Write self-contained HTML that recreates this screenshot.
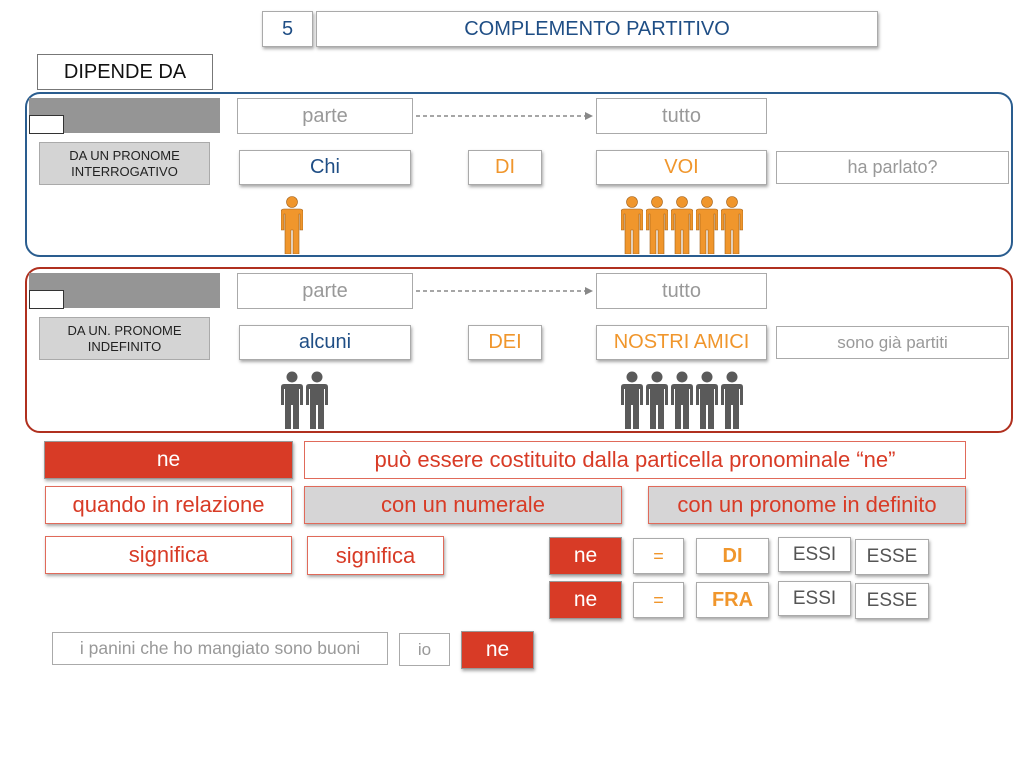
<!DOCTYPE html>
<html><head><meta charset="utf-8"><style>
body{margin:0;width:1024px;height:768px;background:#fff;position:relative;overflow:hidden;font-family:"Liberation Sans",sans-serif}
.b{position:absolute;box-sizing:border-box;display:flex;align-items:center;justify-content:center;text-align:center;background:#fff;border:1px solid #aaa;white-space:nowrap}
.sh{box-shadow:1px 2px 3px rgba(0,0,0,.35)}
.blue{color:#1f4e85}.or{color:#f0962c}.gr{color:#999}.dk{color:#555}
.red{color:#d83b26;border-color:#e06a5a}
.rf{background:#d83b26;color:#fff;border-color:#999}
svg.p{position:absolute}
</style></head><body>
<svg width="0" height="0" style="position:absolute"><defs>
<symbol id="per" viewBox="0 0 22 58"><circle cx="11" cy="6" r="5.5"/><path d="M3 13h16q3 0 3 3v18h-3v-16h-1v40h-6v-24h-2v24h-6v-40h-1v16h-3v-18q0-3 3-3z"/></symbol>
</defs></svg>

<div class="b sh blue" style="left:262px;top:11px;width:51px;height:36px;font-size:20px">5</div>
<div class="b sh blue" style="left:316px;top:11px;width:562px;height:36px;font-size:20px">COMPLEMENTO PARTITIVO</div>
<div class="b" style="left:37px;top:54px;width:176px;height:36px;font-size:20px;border-color:#777;color:#111">DIPENDE DA</div>

<div style="position:absolute;left:25px;top:92px;width:988px;height:165px;box-sizing:border-box;border:2px solid #2a5d8f;border-radius:15px"></div>
<div style="position:absolute;left:25px;top:267px;width:988px;height:166px;box-sizing:border-box;border:2px solid #b0301f;border-radius:15px"></div>

<!-- section 1 -->
<div style="position:absolute;left:29px;top:98px;width:191px;height:35px;background:#959595"></div>
<div style="position:absolute;left:29px;top:115px;width:35px;height:19px;background:#fff;border:1px solid #333;box-sizing:border-box"></div>
<div class="b" style="left:39px;top:142px;width:171px;height:43px;background:#d4d4d4;font-size:13px;line-height:16px;color:#222">DA UN PRONOME<br>INTERROGATIVO</div>
<div class="b gr" style="left:237px;top:98px;width:176px;height:36px;font-size:20px">parte</div>
<div class="b gr" style="left:596px;top:98px;width:171px;height:36px;font-size:20px">tutto</div>
<div class="b sh blue" style="left:239px;top:150px;width:172px;height:35px;font-size:20px">Chi</div>
<div class="b sh or" style="left:468px;top:150px;width:74px;height:35px;font-size:20px">DI</div>
<div class="b sh or" style="left:596px;top:150px;width:171px;height:35px;font-size:20px">VOI</div>
<div class="b gr" style="left:776px;top:151px;width:233px;height:33px;font-size:18px">ha parlato?</div>

<!-- section 2 -->
<div style="position:absolute;left:29px;top:273px;width:191px;height:35px;background:#959595"></div>
<div style="position:absolute;left:29px;top:290px;width:35px;height:19px;background:#fff;border:1px solid #333;box-sizing:border-box"></div>
<div class="b" style="left:39px;top:317px;width:171px;height:43px;background:#d4d4d4;font-size:13px;line-height:16px;color:#222">DA UN. PRONOME<br>INDEFINITO</div>
<div class="b gr" style="left:237px;top:273px;width:176px;height:36px;font-size:20px">parte</div>
<div class="b gr" style="left:596px;top:273px;width:171px;height:36px;font-size:20px">tutto</div>
<div class="b sh blue" style="left:239px;top:325px;width:172px;height:35px;font-size:20px">alcuni</div>
<div class="b sh or" style="left:468px;top:325px;width:74px;height:35px;font-size:20px">DEI</div>
<div class="b sh or" style="left:596px;top:325px;width:171px;height:35px;font-size:20px">NOSTRI AMICI</div>
<div class="b gr" style="left:776px;top:326px;width:233px;height:33px;font-size:17px">sono già partiti</div>

<svg style="position:absolute;left:0;top:0" width="1024" height="768">
<g stroke="#888" stroke-dasharray="4,3" stroke-width="1.5"><line x1="416" y1="116" x2="586" y2="116"/><line x1="416" y1="291" x2="586" y2="291"/></g>
<g fill="#888"><path d="M593 116l-8-4v8z"/><path d="M593 291l-8-4v8z"/></g>
<g fill="#f0962c" stroke="#a0601a" stroke-width=".6">
<use href="#per" x="281" y="196" width="22" height="58"/>
<use href="#per" x="621" y="196" width="22" height="58"/>
<use href="#per" x="646" y="196" width="22" height="58"/>
<use href="#per" x="671" y="196" width="22" height="58"/>
<use href="#per" x="696" y="196" width="22" height="58"/>
<use href="#per" x="721" y="196" width="22" height="58"/>
</g>
<g fill="#5a5a5a">
<use href="#per" x="281" y="371" width="22" height="58"/>
<use href="#per" x="306" y="371" width="22" height="58"/>
<use href="#per" x="621" y="371" width="22" height="58"/>
<use href="#per" x="646" y="371" width="22" height="58"/>
<use href="#per" x="671" y="371" width="22" height="58"/>
<use href="#per" x="696" y="371" width="22" height="58"/>
<use href="#per" x="721" y="371" width="22" height="58"/>
</g>
</svg>

<!-- bottom -->
<div class="b sh rf" style="left:44px;top:441px;width:249px;height:38px;font-size:21px">ne</div>
<div class="b red" style="left:304px;top:441px;width:662px;height:38px;font-size:22px">può essere costituito dalla particella pronominale “ne”</div>
<div class="b sh red" style="left:45px;top:486px;width:247px;height:38px;font-size:22px">quando in relazione</div>
<div class="b sh red" style="left:304px;top:486px;width:318px;height:38px;font-size:22px;background:#d6d5d6">con un numerale</div>
<div class="b sh red" style="left:648px;top:486px;width:318px;height:38px;font-size:22px;background:#d6d5d6">con un pronome in definito</div>
<div class="b sh red" style="left:45px;top:536px;width:247px;height:38px;font-size:22px">significa</div>
<div class="b sh red" style="left:307px;top:536px;width:137px;height:39px;font-size:22px">significa</div>

<div class="b sh rf" style="left:549px;top:537px;width:73px;height:38px;font-size:21px">ne</div>
<div class="b sh or" style="left:633px;top:538px;width:51px;height:36px;font-size:18px">=</div>
<div class="b sh or" style="left:696px;top:538px;width:73px;height:36px;font-size:20px;font-weight:bold">DI</div>
<div class="b sh dk" style="left:778px;top:537px;width:73px;height:35px;font-size:19px">ESSI</div>
<div class="b sh dk" style="left:855px;top:539px;width:74px;height:36px;font-size:19px">ESSE</div>
<div class="b sh rf" style="left:549px;top:581px;width:73px;height:38px;font-size:21px">ne</div>
<div class="b sh or" style="left:633px;top:582px;width:51px;height:36px;font-size:18px">=</div>
<div class="b sh or" style="left:696px;top:582px;width:73px;height:36px;font-size:20px;font-weight:bold">FRA</div>
<div class="b sh dk" style="left:778px;top:581px;width:73px;height:35px;font-size:19px">ESSI</div>
<div class="b sh dk" style="left:855px;top:583px;width:74px;height:36px;font-size:19px">ESSE</div>

<div class="b gr" style="left:52px;top:632px;width:336px;height:33px;font-size:17.5px">i panini che ho mangiato sono buoni</div>
<div class="b gr" style="left:399px;top:633px;width:51px;height:33px;font-size:17px">io</div>
<div class="b sh rf" style="left:461px;top:631px;width:73px;height:38px;font-size:21px">ne</div>
</body></html>
